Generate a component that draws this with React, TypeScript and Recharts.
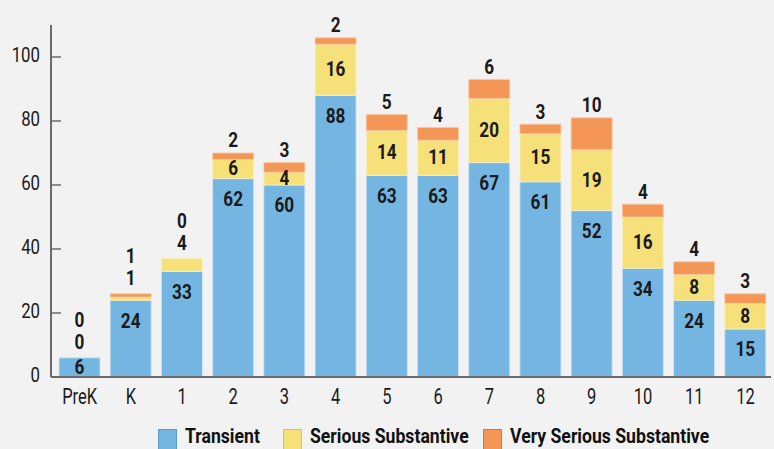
import { BarChart, Bar, XAxis, YAxis, LabelList } from 'recharts'

const categories = ['PreK', 'K', '1', '2', '3', '4', '5', '6', '7', '8', '9', '10', '11', '12']
const transient = [6, 24, 33, 62, 60, 88, 63, 63, 67, 61, 52, 34, 24, 15]
const serious = [0, 1, 4, 6, 4, 16, 14, 11, 20, 15, 19, 16, 8, 8]
const verySerious = [0, 1, 0, 2, 3, 2, 5, 4, 6, 3, 10, 4, 4, 3]
const yTicks = [0, 20, 40, 60, 80, 100]

const data = categories.map((c, i) => ({
  grade: c,
  transient: transient[i],
  serious: serious[i],
  verySerious: verySerious[i],
}))

const FONT = "Roboto, 'DejaVu Sans', sans-serif"
const BLUE = '#74b6e1'
const YELLOW = '#f6e07a'
const ORANGE = '#f39656'

// no condensed face installed, so squeeze the text horizontally
function CText({ x, y, sx, size, weight = 400, anchor = 'middle', children }: any) {
  return (
    <text transform={`translate(${x},${y}) scale(${sx},1)`} textAnchor={anchor} dominantBaseline="central"
      fontFamily={FONT} fontSize={size} fontWeight={weight} fill="#1a1a1a">
      {children}
    </text>
  )
}

// yellow label goes above the stack when the segment is tiny or there's no orange on top
const seriousAbove = (i: number) => serious[i] < 4 || verySerious[i] === 0

// all three labels hang off the blue segment; zero-height segments get no label entry
function StackLabels(props: any) {
  const { x, y, width, height, value } = props
  const i = categories.indexOf(value)
  if (i < 0) return null
  const cx = x + width / 2
  const k = height / transient[i] // px per unit, from the bar itself
  const serTop = y - serious[i] * k
  const top = serTop - verySerious[i] * k
  const t = (ty: number, v: number, key: string) => (
    <CText key={key} x={cx} y={ty} sx={0.86} size={20} weight={700}>{v}</CText>
  )
  const out = [t(Math.min(y + 21, y + height / 2), transient[i], 'a')]
  if (seriousAbove(i)) {
    out.push(t(top - 15, serious[i], 'b'))
    out.push(t(top - 37, verySerious[i], 'c'))
  } else {
    out.push(t(serTop + (serious[i] * k) / 2, serious[i], 'b'))
    out.push(t(top - 12, verySerious[i], 'c'))
  }
  return <g>{out}</g>
}

function YTick(props: any) {
  const { x, y, payload } = props
  return (
    <g>
      <CText x={x} y={y - 2} sx={0.8} size={21} anchor="end">{payload.value}</CText>
      <line x1={x + 11} x2={x + 21} y1={y} y2={y} stroke="#6b6b6b" strokeWidth={1.5} />
    </g>
  )
}

function XTick(props: any) {
  const { x, y, payload } = props
  return <CText x={x} y={y + 20} sx={0.75} size={22}>{payload.value}</CText>
}

const legendItems = [
  { name: 'Transient', color: BLUE, border: '#5a9cc8', left: 158 },
  { name: 'Serious Substantive', color: YELLOW, border: '#d8c25c', left: 283 },
  { name: 'Very Serious Substantive', color: ORANGE, border: '#d67a3c', left: 483 },
]

export default function App() {
  return (
    <div style={{ position: 'fixed', left: 0, top: 0, width: 774, height: 449, background: '#f2f2f2' }}>
      <BarChart width={774} height={449} data={data} barSize={41}
        margin={{ top: 25, right: 3, bottom: 42, left: 0 }}>
        <XAxis dataKey="grade" height={30} tickLine={false} tickSize={0} tickMargin={0}
          axisLine={{ stroke: '#6b6b6b', strokeWidth: 2 }} padding={{ left: 3, right: 0 }}
          tick={<XTick />} interval={0} />
        <YAxis width={51} domain={[0, 110]} ticks={yTicks} tickLine={false} tickSize={0} tickMargin={11}
          axisLine={{ stroke: '#6b6b6b', strokeWidth: 2 }} tick={<YTick />} />
        <Bar dataKey="transient" stackId="a" fill={BLUE} stroke="#cfe5f3" strokeWidth={0.8} isAnimationActive={false}>
          <LabelList dataKey="grade" content={<StackLabels />} />
        </Bar>
        <Bar dataKey="serious" stackId="a" fill={YELLOW} stroke="#faf0c0" strokeWidth={0.8} isAnimationActive={false} />
        <Bar dataKey="verySerious" stackId="a" fill={ORANGE} stroke="#f8c9a6" strokeWidth={0.8} isAnimationActive={false} />
      </BarChart>
      <svg width={774} height={449} style={{ position: 'absolute', left: 0, top: 0, pointerEvents: 'none' }}>
        {legendItems.map((it) => (
          <g key={it.name}>
            <rect x={it.left + 0.5} y={429.5} width={18} height={20} fill={it.color} stroke={it.border} />
            <text transform={`translate(${it.left + 27},443) scale(0.84,1)`} fontFamily={FONT} fontSize={21}
              fontWeight={700} fill="#111">{it.name}</text>
          </g>
        ))}
      </svg>
    </div>
  )
}
